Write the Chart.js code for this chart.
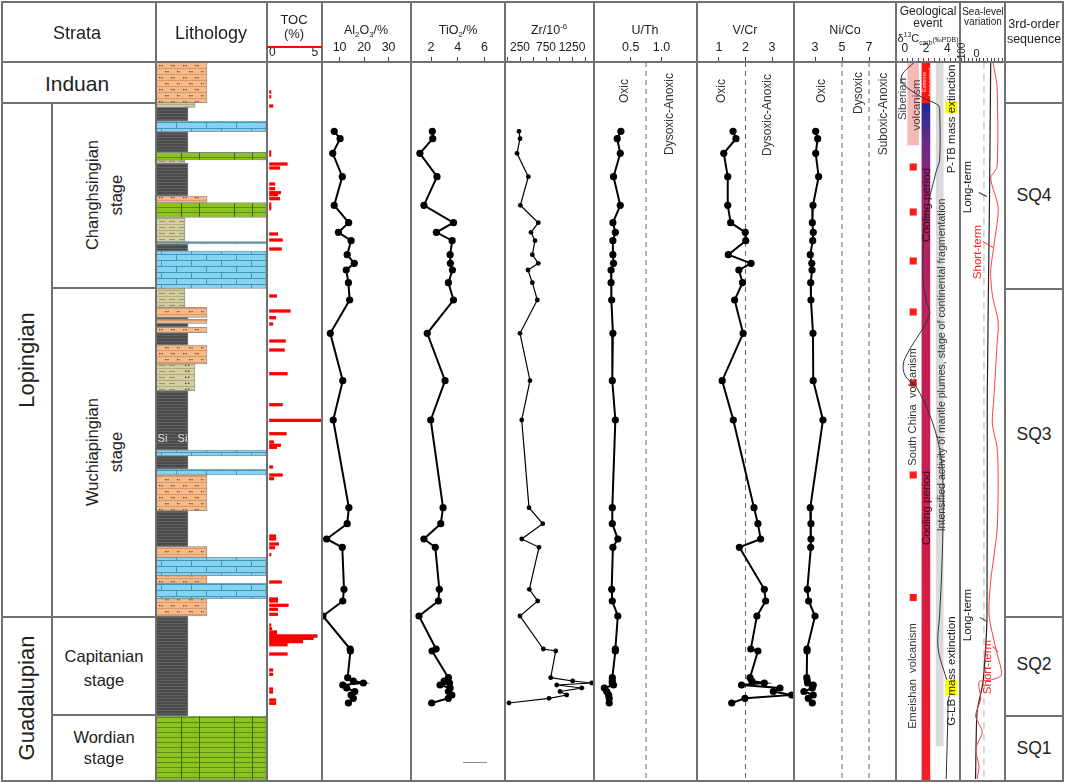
<!DOCTYPE html>
<html><head><meta charset="utf-8">
<script src="https://cdn.jsdelivr.net/npm/chart.js@4.4.1/dist/chart.umd.min.js"></script>
<style>
html,body{margin:0;padding:0;background:#fff;}
#root{position:relative;width:1065px;height:783px;overflow:hidden;font-family:"Liberation Sans",Arial,sans-serif;color:#222;}
.ln{position:absolute;background:#707070;z-index:5;}
.t{position:absolute;transform:translate(-50%,-50%);white-space:nowrap;z-index:6;line-height:1;text-align:center;}
.r{position:absolute;transform:translate(-50%,-50%) rotate(-90deg);white-space:nowrap;z-index:6;line-height:1;text-align:center;}
sub,sup{font-size:0.62em;line-height:0;}
.hl{background:#ffff00;}
</style></head><body><div id="root"></div>
<script>
const FONT = '"Liberation Sans", Arial, sans-serif';
const DEPTH_MAX = 718; // stratigraphic position (arbitrary units, 0 = top of section)

// ---------- geochemical samples ----------
const sampleDepth = [69.3,76.7,91.3,114.7,143.3,160.7,170.3,178.7,192.7,201.3,
  208.0,220.7,238.0,271.3,318.7,358.0,445.7,461.7,477.0,485.3,
  527.3,539.0,554.0,587.0,589.0,615.7,619.0,621.0,623.0,626.0,629.5,633.0,636.3,641.0];
const al2o3 = [7.8,10.2,7.2,11.1,7.8,13.7,9.5,14.7,13.1,16.0,
  12.7,13.6,14.1,6.2,11.3,7.4,13.8,13.1,4.7,11.1,
  11.8,11.3,3.2,14.3,14.4,13.3,15.6,19.7,11.3,12.9,16.2,14.7,15.6,13.6];
const tio2 = [2.10,2.13,1.17,2.45,1.47,3.68,2.40,3.58,3.43,3.45,
  3.60,3.30,3.68,1.72,3.05,1.98,2.90,2.73,1.47,2.32,
  2.62,2.55,1.10,2.38,2.08,3.30,2.98,3.38,2.68,3.43,3.30,3.56,3.30,2.05];
const zr = [231,250,192,410,256,602,462,538,487,602,
  404,487,583,250,442,283,423,687,283,615,
  429,590,250,698,937,840,1263,1629,956,1437,1019,1148,808,38];
const uth = [0.34,0.28,0.33,0.22,0.33,0.21,0.25,0.21,0.21,0.22,
  0.18,0.18,0.19,0.21,0.20,0.25,0.20,0.20,0.29,0.21,
  0.19,0.20,0.29,0.25,0.25,0.20,0.20,0.20,0.22,0.07,0.11,0.14,0.15,0.15];
const vcr = [1.53,1.64,1.18,1.33,1.33,1.44,1.99,2.01,1.35,2.21,
  1.75,1.89,1.59,1.91,1.12,1.54,2.32,2.47,2.57,1.77,
  2.71,2.76,2.43,2.20,2.47,2.17,2.24,2.71,1.85,3.30,3.05,3.74,1.98,1.48];
const nico = [3.05,3.20,3.05,3.27,2.85,2.80,2.87,2.83,2.65,2.76,
  2.78,2.68,2.70,2.85,2.87,3.59,2.65,2.70,2.70,2.68,
  2.43,2.53,3.00,2.41,2.41,2.39,2.43,2.45,2.87,2.80,2.18,2.87,2.50,2.80];

// ---------- TOC ----------
const tocDepth = [30,34.7,44,90,93,102,106,122,126.7,130.7,
  132.7,136.7,142,144.7,146.7,172,178,187,234,249,
  255.7,262,279,288,311.7,342.7,358.3,371.7,380,383.3,
  385.3,405,413,416.7,474,477,482,485.7,492.7,520,
  537,539,543.3,547.3,552.3,563,566.7,570,572,574,
  576.3,579.7,582.7,592,608,612.3,627,630,638,641.3];
const tocValue = [0.2,0.2,0.4,0.2,0.2,1.86,1.08,0.59,0.59,1.18,
  0.88,1.08,0.2,0.2,0.2,0.88,1.37,1.27,0.78,2.16,
  0.69,0.39,1.67,1.57,1.86,1.37,5.39,1.76,0.49,1.18,
  0.78,0.39,1.37,0.49,0.69,0.69,0.98,0.59,0.2,1.27,
  0.88,0.88,1.96,0.88,0.88,0.2,0.29,0.78,0.78,4.9,
  4.5,3.43,1.86,1.86,0.39,0.39,0.39,0.39,0.69,0.69];

// ---------- lithology ----------
const lithoType = ['sand','siltD','shale','lime','shale','dolo','silt','shale','sand','dolo',
  'silt','lime','shale','lime','silt','sand','shale','sand','shale','sand',
  'shale','sand','siltD','shale','lime','shale','lime','sand','shale','sand',
  'lime','sand','lime','sand','shale','dolo'];
const lithoTop = [0,40.7,45.3,59,69.7,90.3,98,101.3,134,140.7,
  155.3,179.7,182,189,226.3,245.3,255.3,257.3,261.3,265.3,
  270.7,283,302,328.7,388,393.7,407,413,448.7,484.7,
  495.3,513.7,521.3,536.7,554,654];
const lithoBase = [40.7,45.3,59,69.7,90.3,98,101.3,134,140.7,155.3,
  179.7,182,189,226.3,245.3,255.3,257.3,261.3,265.3,270.7,
  283,302,328.7,388,393.7,407,413,448.7,484.7,495.3,
  513.7,521.3,536.7,554,654,718];
const lithoGrain = {shale:32, silt:29, siltD:39, sand:51, lime:110, dolo:110};

// ---------- geological events ----------
const carbDepth = [0,13,22,35,43,48,98,109,159,186,219,240,253,290,302,313,321,325,352,385,419,469,519,553,586,616,628,640,654,717];
const carbValue = [0.93,-0.28,-0.14,1.57,3.12,3.27,3.27,2.96,1.85,1.72,1.72,2.04,2.31,0.32,-0.15,0,0.65,1.09,2.31,3.24,3.58,3.58,3.43,3.27,3.12,3.89,4.26,4.07,4.05,3.89];
const volcanismDepth = [105,150,199,250,321,413,535.5];
const siberianRange = [0,83];
const extremeHeatRange = [0,41];
const coolingRange = [41,718];
const plumeRange = [0,684];

// ---------- sea level ----------
const seaLongDepth = [0,138,333,558,620,650,717];
const seaLong = [-98,-90,-75,-73,-47,-7,3];
const seaShortDepth = [0,25,105,116,146,183,209,233,260,283,334,362,385,419,469,519,553,586,613,618,620,637,654,670,687,704,717];
const seaShort = [-113,-140,-140,-98,-148,-120,-98,-109,-148,-140,-120,-109,-140,-148,-140,-98,-87,-131,-170,-98,-20,-31,3,-42,3,-20,-7];
const seaRef = -53;

// ---------- axes: ranges & ticks ----------
const tocRange=[0,5.39], tocTicks=[0,5], tocTickText=['0','5'];
const alRange=[2.82,39.14], alTicks=[10,20,30], alTickText=['10','20','30'];
const tiRange=[0.505,7.53], tiTicks=[2,4,6], tiTickText=['2','4','6'];
const zrRange=[-38.5,1673], zrRuler=[0,250,500,750,1000,1250,1500], zrTicks=[250,750,1250], zrTickText=['250','750','1250'];
const uthRange=[-0.098,1.58], uthTicks=[0.5,1.0], uthTickText=['0.5','1.0'], uthLimits=[0.75];
const vcrRange=[0.17,3.83], vcrTicks=[1,2,3], vcrTickText=['1','2','3'], vcrLimits=[2];
const nicoRange=[1.444,9.0], nicoTicks=[3,5,7], nicoTickText=['3','5','7'], nicoLimits=[5,7];
const carbRange=[-0.833,5.093], carbRuler=[0,0.5,1,1.5,2,2.5,3,3.5,4,4.5,5], carbTicks=[0,2,4], carbTickText=['0','2','4'];
const seaRange=[-193.3,106.7], seaRuler=[-175,-150,-125,-100,-75,-50,-25,0,25,50,75,100];

Chart.defaults.font.family = FONT;
const root = document.getElementById('root');

function topAxis(range, ruler, lblVals, lblText, o = {}) {
  const tl = o.tickLength === undefined ? 5 : o.tickLength;
  return {
    type:'linear', position:'top', min:range[0], max:range[1], reverse:!!o.reverse, offset:false,
    afterBuildTicks: ax => { ax.ticks = ruler.map(v => ({value:v})); },
    afterFit: ax => { ax.height = 32; },
    grid:{display:true, drawOnChartArea:false, drawTicks: tl > 0, tickLength: tl, tickColor:'#444', tickWidth:1},
    border:{display:false},
    ticks:{autoSkip:false, maxRotation:0, minRotation:0, padding: o.padding === undefined ? 2 : o.padding,
      align: o.align || 'center', color:'#222', font:{family:FONT, size:o.fontSize || 12.5},
      callback: v => { const i = lblVals.indexOf(v); return i >= 0 ? lblText[i] : ''; }}
  };
}
function opts(xScale, extra, indexAxis) {
  return {
    responsive:false, animation:false, events:[], devicePixelRatio:1,
    indexAxis: indexAxis || 'x',
    layout:{padding:0, autoPadding:false},
    plugins:{legend:{display:false}, tooltip:{enabled:false}},
    scales: Object.assign({x:xScale, y:{type:'linear', display:false, min:0, max:DEPTH_MAX, reverse:true, offset:false}}, extra || {})
  };
}
function mk(left, top, w, h, cfg) {
  const c = document.createElement('canvas');
  c.width = w; c.height = h;
  c.style.cssText = `position:absolute;left:${left}px;top:${top}px;width:${w}px;height:${h}px;z-index:1;`;
  root.appendChild(c);
  return new Chart(c, cfg);
}
function T(x, y, html, size, o = {}) {
  const d = document.createElement('div');
  d.className = o.rot ? 'r' : 't';
  d.style.left = x + 'px'; d.style.top = y + 'px'; d.style.fontSize = size + 'px';
  if (o.color) d.style.color = o.color;
  if (o.lh) d.style.lineHeight = o.lh;
  if (o.z) d.style.zIndex = o.z;
  d.innerHTML = html; root.appendChild(d);
}
function L(x, y, w, h, c) {
  const d = document.createElement('div');
  d.className = 'ln';
  d.style.cssText = `left:${x}px;top:${y}px;width:${w}px;height:${h}px;` + (c ? `background:${c};` : '');
  root.appendChild(d);
}
const H = (x1, x2, y, w = 1.5, c) => L(x1, y - w / 2, x2 - x1, w, c);
const V = (x, y1, y2, w = 1.5, c) => L(x - w / 2, y1, w, y2 - y1, c);
function arrow(x1, y1, x2, y2, c) {
  const d = document.createElement('div');
  const len = Math.hypot(x2 - x1, y2 - y1), ang = Math.atan2(y2 - y1, x2 - x1) * 180 / Math.PI;
  d.style.cssText = `position:absolute;left:${x1}px;top:${y1}px;width:${len}px;height:0;border-top:1px solid ${c};transform-origin:0 0;transform:rotate(${ang}deg);z-index:6;`;
  root.appendChild(d);
}

// ---------- patterns ----------
function pattern(w, h, draw) {
  const c = document.createElement('canvas'); c.width = w; c.height = h;
  const g = c.getContext('2d'); draw(g, w, h); return g.createPattern(c, 'repeat');
}
const lithoFill = {
  sand: pattern(24, 12, (g) => {
    g.fillStyle = '#f8b986'; g.fillRect(0, 0, 24, 12);
    g.strokeStyle = '#c88c62'; g.lineWidth = 0.8;
    g.beginPath(); g.moveTo(0, 0.4); g.lineTo(24, 0.4); g.moveTo(0, 6.4); g.lineTo(24, 6.4); g.stroke();
    g.fillStyle = '#5a4a40';
    [[3,3],[5.4,3],[15,3],[17.4,3],[9,9],[11.4,9],[21,9],[23.4,9]].forEach(p => g.fillRect(p[0], p[1], 1.3, 1.3));
  }),
  shale: pattern(8, 3, (g) => {
    g.fillStyle = '#4b4b4b'; g.fillRect(0, 0, 8, 3);
    g.fillStyle = '#666'; g.fillRect(0, 0, 8, 0.8);
  }),
  silt: pattern(30, 6, (g) => {
    g.fillStyle = '#d3cd9f'; g.fillRect(0, 0, 30, 6);
    g.fillStyle = '#a9a37c'; g.fillRect(0, 0, 30, 0.8);
    g.fillStyle = '#8f8b69'; [3, 13, 23].forEach(x => g.fillRect(x, 3, 6, 0.9));
  }),
  siltD: pattern(39, 6, (g) => {
    g.fillStyle = '#d3cd9f'; g.fillRect(0, 0, 39, 6);
    g.fillStyle = '#a9a37c'; g.fillRect(0, 0, 39, 0.8);
    g.fillStyle = '#8f8b69'; [3, 13].forEach(x => g.fillRect(x, 3, 6, 0.9));
    g.fillStyle = '#444'; g.fillRect(29, 2.6, 1.4, 1.4); g.fillRect(32, 2.6, 1.4, 1.4);
  }),
  lime: pattern(60, 12, (g) => {
    g.fillStyle = '#84d3f1'; g.fillRect(0, 0, 60, 12);
    g.strokeStyle = '#3d8db4'; g.lineWidth = 0.9;
    g.beginPath(); g.moveTo(0, 0.5); g.lineTo(60, 0.5); g.moveTo(0, 6.5); g.lineTo(60, 6.5);
    g.moveTo(20.5, 0); g.lineTo(20.5, 6); g.moveTo(50.5, 0); g.lineTo(50.5, 6);
    g.moveTo(5.5, 6); g.lineTo(5.5, 12); g.moveTo(35.5, 6); g.lineTo(35.5, 12); g.stroke();
  }),
  dolo: pattern(110, 10, (g) => {
    g.fillStyle = '#8dc31f'; g.fillRect(0, 0, 110, 10);
    g.strokeStyle = '#4f7d12'; g.lineWidth = 0.8;
    g.beginPath(); g.moveTo(0, 0.5); g.lineTo(110, 0.5); g.moveTo(0, 5.5); g.lineTo(110, 5.5); g.stroke();
    g.strokeStyle = '#3c640b'; g.lineWidth = 1;
    g.beginPath(); [25, 43, 78, 96].forEach(x => { g.moveTo(x + 0.5, 0); g.lineTo(x + 0.5, 10); }); g.stroke();
  })
};

// ---------- lithology column ----------
(function () {
  const kinds = ['shale','silt','siltD','sand','lime','dolo'];
  const datasets = kinds.map(k => ({
    type:'bar', grouped:false, borderSkipped:false, borderWidth:0.8, borderColor:'#8a8a8a',
    backgroundColor: lithoFill[k], barThickness: lithoGrain[k],
    data: lithoType.map((t, i) => t === k ? {x: lithoGrain[k] / 2, y:[lithoTop[i], lithoBase[i]]} : null).filter(Boolean)
  }));
  mk(156, 62, 111, 718, {type:'bar', data:{datasets},
    options: opts({type:'linear', display:false, min:0, max:111, offset:false})});
})();

// ---------- TOC ----------
mk(267, 30, 55, 750, {type:'bar', data:{datasets:[{
    data: tocDepth.map((d, i) => ({x: tocValue[i], y: d})), backgroundColor:'#ff0000', borderWidth:0,
    barThickness:2.6, grouped:false }]},
  options: opts(topAxis(tocRange, tocTicks, tocTicks, tocTickText, {tickLength:0, padding:2, align:'inner', fontSize:12}), {}, 'y')});

// ---------- profiles ----------
function profile(left, width, range, ruler, lblVals, lblText, values, st) {
  const datasets = [{
    type:'scatter', data: sampleDepth.map((d, i) => ({x: values[i], y: d})), showLine:true,
    borderColor:'#000', backgroundColor:'#000', borderWidth: st.lw, pointRadius: st.pr, pointBorderWidth:0, clip:false
  }];
  (st.limits || []).forEach(v => datasets.push({type:'scatter', data:[{x:v, y:0}, {x:v, y:DEPTH_MAX}], showLine:true,
    borderColor:'#666', borderWidth:1, borderDash:[5,4], pointRadius:0}));
  mk(left, 30, width, 750, {type:'scatter', data:{datasets}, options: opts(topAxis(range, ruler, lblVals, lblText, {fontSize: st.fs}))});
}
profile(322, 89, alRange, alTicks, alTicks, alTickText, al2o3, {lw:2, pr:3.6, fs:12.5});
profile(411, 94, tiRange, tiTicks, tiTicks, tiTickText, tio2, {lw:2, pr:3.6, fs:12.5});
profile(505, 89, zrRange, zrRuler, zrTicks, zrTickText, zr, {lw:1.2, pr:2.4, fs:12});
profile(594, 103, uthRange, uthTicks, uthTicks, uthTickText, uth, {lw:2, pr:3.6, fs:12.5, limits:uthLimits});
profile(697, 97, vcrRange, vcrTicks, vcrTicks, vcrTickText, vcr, {lw:2, pr:3.6, fs:12.5, limits:vcrLimits});
profile(794, 102, nicoRange, nicoTicks, nicoTicks, nicoTickText, nico, {lw:2, pr:3.6, fs:12.5, limits:nicoLimits});

// ---------- geological events ----------
(function () {
  const trackVolc = 17.5, trackThermal = 30.4, trackPlume = 44.4;
  const coolingGradient = (c) => {
    const ch = c.chart; if (!ch.chartArea) return '#c0205a';
    const ys = ch.scales.y;
    const g = ch.ctx.createLinearGradient(0, ys.getPixelForValue(coolingRange[0]), 0, ys.getPixelForValue(coolingRange[1]));
    g.addColorStop(0, '#22239c'); g.addColorStop(0.012, '#2c2a98'); g.addColorStop(0.06, '#6a2a88');
    g.addColorStop(0.15, '#a8246c'); g.addColorStop(0.35, '#be215a'); g.addColorStop(0.65, '#cd1f4a');
    g.addColorStop(0.85, '#e21e38'); g.addColorStop(1, '#f61e28');
    return g;
  };
  const datasets = [
    {type:'scatter', xAxisID:'x', data: carbDepth.map((d, i) => ({x: carbValue[i], y: d})), showLine:true,
      borderColor:'#333', borderWidth:1, pointRadius:0, tension:0.35},
    {type:'scatter', xAxisID:'xe', data: volcanismDepth.map(d => ({x: trackVolc, y: d})), pointStyle:'rect',
      pointRadius:5, backgroundColor:'#ff1a1a', borderWidth:0},
    {type:'bar', xAxisID:'xe', grouped:false, barThickness:8, borderWidth:0, backgroundColor:'#ff1414',
      data:[{x: trackThermal, y: extremeHeatRange}]},
    {type:'bar', xAxisID:'xe', grouped:false, barThickness:8, borderWidth:0, backgroundColor: coolingGradient,
      data:[{x: trackThermal, y: coolingRange}]},
    {type:'bar', xAxisID:'xe', grouped:false, barThickness:11, borderWidth:0, backgroundColor:'#f8b8b8',
      data:[{x: trackVolc, y: siberianRange}]},
    {type:'bar', xAxisID:'xe', grouped:false, barThickness:7, borderWidth:0, backgroundColor:'#dadada',
      data:[{x: trackPlume, y: plumeRange}]}
  ];
  mk(896, 30, 64, 750, {type:'bar', data:{datasets},
    options: opts(topAxis(carbRange, carbRuler, carbTicks, carbTickText, {fontSize:12, tickLength:4}),
      {xe:{type:'linear', axis:'x', display:false, min:0, max:64, offset:false}})});
})();

// ---------- sea level ----------
mk(960, 30, 45, 750, {type:'scatter', data:{datasets:[
    {data: seaShortDepth.map((d, i) => ({x: seaShort[i], y: d})), showLine:true, borderColor:'#ff3b3b', borderWidth:1, pointRadius:0, tension:0.25},
    {data: seaLongDepth.map((d, i) => ({x: seaLong[i], y: d})), showLine:true, borderColor:'#222', borderWidth:1.2, pointRadius:0, tension:0.2},
    {data: [{x: seaRef, y: 0}, {x: seaRef, y: DEPTH_MAX}], showLine:true, borderColor:'#b5b5b5', borderWidth:1, borderDash:[7,5], pointRadius:0}
  ]},
  options: opts(topAxis(seaRange, seaRuler, [], [], {reverse:true, tickLength:4}))});

// ---------- table lines ----------
H(1, 1064, 2, 2); H(1, 1064, 781, 2); V(2, 1, 782, 2); V(1063, 1, 782, 2);
H(2, 1063, 62);
[156, 267, 322, 411, 505, 594, 697, 794, 896, 960, 1005].forEach(x => V(x, 2, 781));
V(52, 103, 781);
H(2, 156, 103); H(52, 156, 288); H(2, 156, 617); H(52, 156, 715);
H(1005, 1063, 103); H(1005, 1063, 289); H(1005, 1063, 617); H(1005, 1063, 716);
H(267, 322, 47, 1.6, '#ff0000');
H(463, 487, 762, 1, '#8a8a8a');

// ---------- text ----------
T(77, 33, 'Strata', 18); T(211, 33, 'Lithology', 18);
T(294, 19, 'TOC', 13); T(294, 33, '(%)', 13);
T(366, 30, 'Al<sub>2</sub>O<sub>3</sub>/%', 12.5);
T(458, 30, 'TiO<sub>2</sub>/%', 12.5);
T(549, 30, 'Zr/10<sup>-6</sup>', 12.5);
T(645, 30, 'U/Th', 12.5);
T(745, 30, 'V/Cr', 12.5);
T(845, 30, 'Ni/Co', 12.5);
T(928, 11, 'Geological', 12); T(928, 23, 'event', 12);
T(928, 38, 'δ<sup>13</sup>C<sub>carb</sub><span style="font-size:7px">(‰PDB)</span>', 11);
T(983, 12, 'Sea-level', 10); T(983, 22, 'variation', 10);
T(962, 51, '100', 10, {rot:true}); T(976.5, 53, '0', 11);
T(1034, 24, '3rd-order', 12.5); T(1034, 39, 'sequence', 12.5);

T(77, 83, 'Induan', 21);
T(27, 360, 'Lopingian', 22, {rot:true});
T(27, 698, 'Guadalupian', 22, {rot:true});
T(92, 195, 'Changhsingian', 16.5, {rot:true}); T(116, 195, 'stage', 16.5, {rot:true});
T(92, 452, 'Wuchiapingian', 16.5, {rot:true}); T(116, 452, 'stage', 16.5, {rot:true});
T(104, 656, 'Capitanian', 16.5); T(104, 680, 'stage', 16.5);
T(104, 737, 'Wordian', 16.5); T(104, 758, 'stage', 16.5);

T(1034, 196, 'SQ4', 17.5); T(1034, 435, 'SQ3', 17.5); T(1034, 665, 'SQ2', 17.5); T(1034, 749, 'SQ1', 17.5);

T(162.5, 438, 'Si', 11, {color:'#e2e2e2'}); T(182.5, 438, 'Si', 11, {color:'#e2e2e2'});

const zc = '#333';
T(624, 91, 'Oxic', 12, {rot:true, color:zc}); T(669, 114, 'Dysoxic-Anoxic', 12, {rot:true, color:zc});
T(721, 91, 'Oxic', 12, {rot:true, color:zc}); T(767, 115, 'Dysoxic-Anoxic', 12, {rot:true, color:zc});
T(821, 91, 'Oxic', 12, {rot:true, color:zc}); T(857.5, 93, 'Dysoxic', 12, {rot:true, color:zc}); T(883, 114, 'Suboxic-Anoxic', 12, {rot:true, color:zc});

T(903, 99, 'Siberian', 11.5, {rot:true, color:'#444'}); T(917, 105, 'volcanism', 11.5, {rot:true, color:'#444'});
T(926.5, 82, 'Extreme<br>heat period', 5.5, {rot:true, color:'#ffd6d6'});
T(926.5, 205, 'Cooling period', 11.5, {rot:true, color:'#3a0a1e'});
T(926.5, 508, 'Cooling period', 11.5, {rot:true, color:'#3a0a1e'});
T(941, 365, 'Intensified activity of mantle plumes, stage of continental fragmentation', 10.6, {rot:true, color:'#333'});
T(952, 119, 'P-TB mass <span class="hl">ex</span>tinction', 11.5, {rot:true, color:'#222'});
T(913, 407, 'South China&nbsp; volcanism', 11.2, {rot:true, color:'#333'});
T(913, 676, 'Emeishan&nbsp; volcanism', 11.2, {rot:true, color:'#333'});
T(952, 671, 'G-LB <span class="hl">ma</span>ss extinction', 11.5, {rot:true, color:'#222'});
T(968, 187, 'Long-term', 11.5, {rot:true, color:'#222'});
T(978, 252, 'Short-term', 11.5, {rot:true, color:'#ff2020'});
T(968, 615, 'Long-term', 11.5, {rot:true, color:'#222'});
T(988, 667, 'Short-term', 11.5, {rot:true, color:'#ff2020'});
arrow(979, 192, 987, 196, '#333');
arrow(983, 241, 993, 247, '#ff3b3b');
arrow(980, 617, 987, 621, '#333');
arrow(993, 646, 999, 652, '#ff3b3b');
</script>
</body></html>
